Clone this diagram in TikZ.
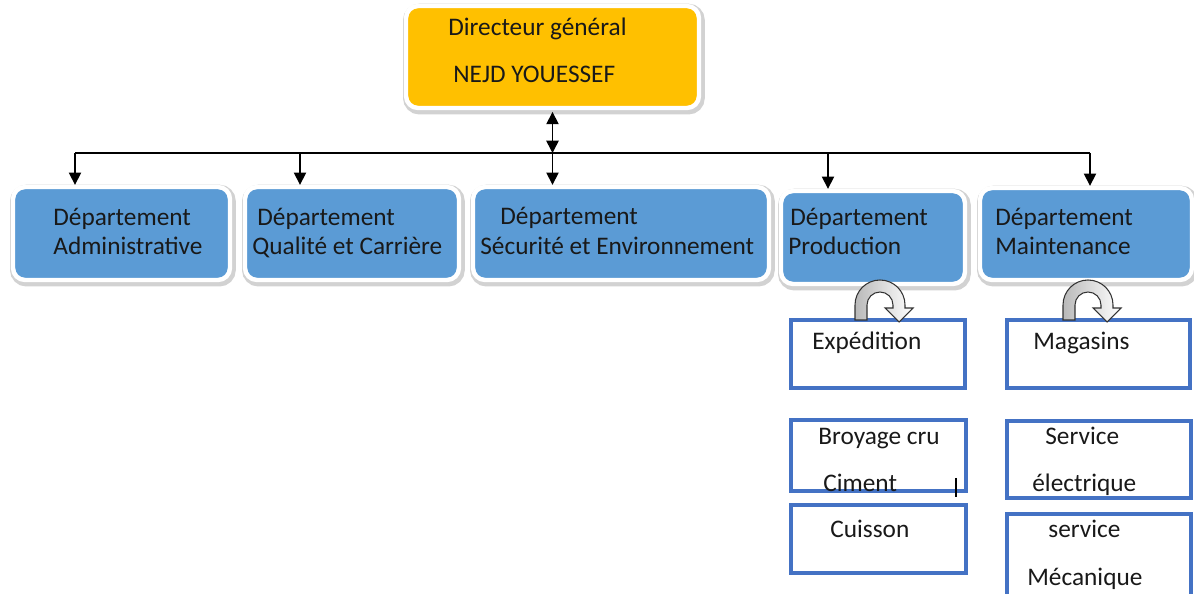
\documentclass[tikz,border=0pt]{standalone}
\usepackage{fontspec}
\setmainfont{Carlito}
\usetikzlibrary{arrows.meta}
\definecolor{dirorange}{HTML}{FFC000}
\definecolor{deptblue}{HTML}{5B9BD5}
\definecolor{unitblue}{HTML}{4472C4}
\tikzset{
  box/.style={rounded corners=0.24cm, draw=white, line width=2.5pt,
    preaction={draw=gray!35, line width=5pt, transform canvas={shift={(0.8pt,-1.2pt)}}}},
  dirbox/.style={box, fill=dirorange},
  deptbox/.style={box, fill=deptblue},
  unitbox/.style={draw=unitblue, line width=2.3pt, fill=white},
  lbl/.style={anchor=base west, inner sep=0pt, text=black!90, font=\fontsize{14.4}{17}\selectfont},
  link/.style={line width=0.9pt, -{Triangle[width=7pt,length=7pt]}},
  twolink/.style={line width=0.9pt, {Triangle[width=7pt,length=7pt]}-{Triangle[width=7pt,length=7pt]}},
  uturn/.style={draw=black!80, line width=0.6pt, left color=gray!55, right color=white}
}
\begin{document}
\begin{tikzpicture}[x=0.02cm, y=0.02cm]
  %% Page of the chart, in pixels of the original
  \useasboundingbox (0,0) rectangle (1194,-594);
  %% Director
  \node[dirbox, minimum width=5.86cm, minimum height=2.04cm] (dg) at (552.5,-57) {};
  %% Departments
  \node[deptbox, minimum width=4.34cm, minimum height=1.86cm] (adm) at (121.5,-233.5) {};
  \node[deptbox, minimum width=4.28cm, minimum height=1.86cm] (qual) at (352,-233.5) {};
  \node[deptbox, minimum width=5.92cm, minimum height=1.86cm] (secu) at (621,-233.5) {};
  \node[deptbox, minimum width=3.68cm, minimum height=1.86cm] (prod) at (873,-237.5) {};
  \node[deptbox, minimum width=4.24cm, minimum height=1.84cm] (maint) at (1086,-234) {};
  %% Units under production and maintenance
  \node[unitbox, minimum width=3.48cm, minimum height=1.36cm] (exped) at (878,-354) {};
  \node[unitbox, minimum width=3.5cm, minimum height=1.42cm] (broy) at (878.5,-455.5) {};
  \node[unitbox, minimum width=3.5cm, minimum height=1.36cm] (cuis) at (878.5,-539) {};
  \node[unitbox, minimum width=3.66cm, minimum height=1.36cm] (mag) at (1098.5,-354) {};
  \node[unitbox, minimum width=3.68cm, minimum height=1.54cm] (elec) at (1099,-459.5) {};
  \node[unitbox, minimum width=3.68cm, minimum height=1.72cm] (meca) at (1099,-557) {};
  %% Bus
  \coordinate (b1) at (75,-153);
  \coordinate (b2) at (300,-153);
  \coordinate (b3) at (552.5,-153);
  \coordinate (b4) at (828,-153);
  \coordinate (b5) at (1090,-153);
  \draw[line width=0.9pt] (b1) -- (b5);
  \draw[twolink, shorten <=1pt] (dg.south) -- (b3);
  \draw[link] (b1) -- (b1 |- adm.north);
  \draw[link] (b2) -- (b2 |- qual.north);
  \draw[link] (b3) -- (b3 |- secu.north);
  \draw[link] (b4) -- (b4 |- prod.north);
  \draw[link] (b5) -- (b5 |- maint.north);
  %% U-turn arrows
  \shade[uturn] (855,-320) -- ++(0,15) arc[start angle=180, end angle=0, radius=25]
    -- ++(0,-3) -- ++(8,0) -- ++(-14,-14) -- ++(-14,14) -- ++(8,0) -- ++(0,3)
    arc[start angle=0, end angle=180, radius=13] -- ++(0,-15) -- cycle;
  \shade[uturn] (1063,-320) -- ++(0,15) arc[start angle=180, end angle=0, radius=25]
    -- ++(0,-3) -- ++(8,0) -- ++(-14,-14) -- ++(-14,14) -- ++(8,0) -- ++(0,3)
    arc[start angle=0, end angle=180, radius=13] -- ++(0,-15) -- cycle;
  %% Labels
  \node[lbl] (dgA) at (448,-36) {Directeur général};
  \node[lbl] (dgB) at (453,-83) {NEJD YOUESSEF};
  \node[lbl] (admA) at (53,-226) {Département};
  \node[lbl] (admB) at (53,-255) {Administrative};
  \node[lbl] (qualA) at (257,-226) {Département};
  \node[lbl] (qualB) at (252,-255) {Qualité et Carrière};
  \node[lbl] (secuA) at (500,-225) {Département};
  \node[lbl] (secuB) at (480,-255) {Sécurité et Environnement};
  \node[lbl] (prodA) at (790,-226) {Département};
  \node[lbl] (prodB) at (788,-255) {Production};
  \node[lbl] (maintA) at (995,-226) {Département};
  \node[lbl] (maintB) at (995,-255) {Maintenance};
  \node[lbl] (expedA) at (812,-350) {Expédition};
  \node[lbl] (broyA) at (818,-445) {Broyage cru};
  \node[lbl] (broyB) at (823,-492) {Ciment};
  \node[lbl] (cuisA) at (830,-538) {Cuisson};
  \node[lbl] (magA) at (1033,-350) {Magasins};
  \node[lbl] (elecA) at (1045,-445) {Service};
  \node[lbl] (elecB) at (1032,-492) {électrique};
  \node[lbl] (mecaA) at (1048,-538) {service};
  \node[lbl] (mecaB) at (1027,-585) {Mécanique};
  %% Stray cursor mark
  \draw[line width=0.7pt] (956,-478) -- (956,-497);
\end{tikzpicture}
\end{document}
